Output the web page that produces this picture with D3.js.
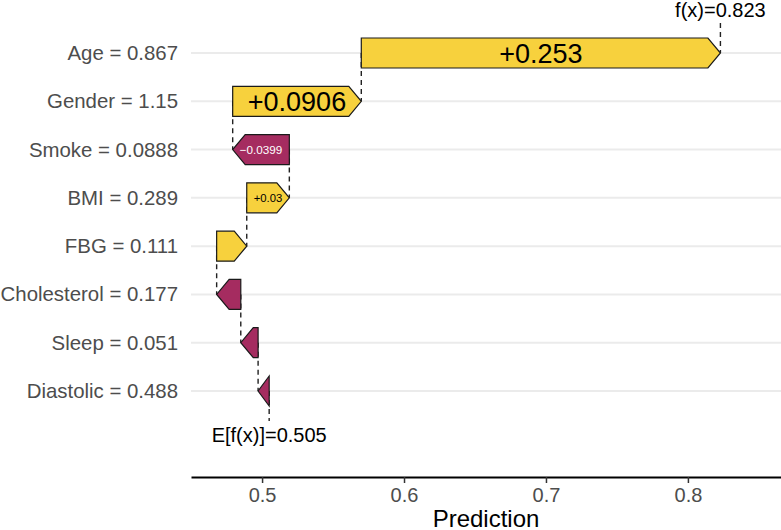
<!DOCTYPE html>
<html>
<head>
<meta charset="utf-8">
<script src="https://cdn.jsdelivr.net/npm/d3@7"></script>
<style>
  body { margin: 0; background: #fff; }
  text { font-family: "Liberation Sans", Arial, sans-serif; }
</style>
</head>
<body>
<script>
// waterfall data, top row first
var features = ["Age", "Gender", "Smoke", "BMI", "FBG", "Cholesterol", "Sleep", "Diastolic"];
var featureValues = ["0.867", "1.15", "0.0888", "0.289", "0.111", "0.177", "0.051", "0.488"];
var shapValues = [0.253, 0.0906, -0.0399, 0.03, 0.0212, -0.017, -0.0122, -0.0078];
var baseValue = 0.505;
var xTicks = [0.5, 0.6, 0.7, 0.8];

var posColour = "#f7d13d";
var negColour = "#a52c60";

var W = 781, H = 530;

var svg = d3.select("body").append("svg")
    .attr("width", W)
    .attr("height", H);

// stack from the bottom (base value) up to f(x)
var n = features.length;
var rows = [];
var acc = baseValue;
for (var i = n - 1; i >= 0; i--) {
  rows[i] = { name: features[i], label: features[i] + " = " + featureValues[i],
              shap: shapValues[i], from: acc, to: acc + shapValues[i] };
  acc += shapValues[i];
}
var prediction = acc;

var x = d3.scaleLinear()
    .domain([0.44993, 0.86558])
    .range([191, 781]);

var y = d3.scalePoint()
    .domain(features)
    .range([53, 391]);

var barH = 30;
var headLen = 12.5;
var fmt = d3.format("+.3~r");
var fmtPlain = d3.format(".3~r");

// gridlines
svg.append("g").selectAll("line")
    .data(features)
    .enter().append("line")
      .attr("x1", 191)
      .attr("x2", 781)
      .attr("y1", function(d) { return y(d); })
      .attr("y2", function(d) { return y(d); })
      .attr("stroke", "#ebebeb")
      .attr("stroke-width", 2);

// y labels
svg.append("g").selectAll("text")
    .data(rows)
    .enter().append("text")
      .attr("x", 178)
      .attr("y", function(d) { return y(d.name) + 7; })
      .attr("text-anchor", "end")
      .attr("font-size", 20.4)
      .attr("fill", "#4d4d4d")
      .text(function(d) { return d.label; });

// dashed connectors (drawn under the arrows)
var dash = svg.append("g")
    .attr("stroke", "#222")
    .attr("stroke-width", 1.4)
    .attr("stroke-dasharray", "5,4");

for (var i = 0; i < n - 1; i++) {
  dash.append("line")
      .attr("x1", x(rows[i].from)).attr("x2", x(rows[i].from))
      .attr("y1", y(rows[i].name)).attr("y2", y(rows[i + 1].name));
}
dash.append("line")
    .attr("x1", x(prediction)).attr("x2", x(prediction))
    .attr("y1", 23).attr("y2", y(rows[0].name));
dash.append("line")
    .attr("x1", x(baseValue)).attr("x2", x(baseValue))
    .attr("y1", y(rows[n - 1].name)).attr("y2", 421);

// arrows
function arrowPath(d) {
  var xa = x(d.from), xb = x(d.to);
  var cy = y(d.name), t = cy - barH / 2, b = cy + barH / 2;
  var h = Math.min(headLen, Math.abs(xb - xa));
  var s = xb > xa ? xb - h : xb + h;
  return "M" + xa + "," + t + "L" + s + "," + t + "L" + xb + "," + cy +
         "L" + s + "," + b + "L" + xa + "," + b + "Z";
}

svg.append("g").selectAll("path")
    .data(rows)
    .enter().append("path")
      .attr("d", arrowPath)
      .attr("fill", function(d) { return d.shap >= 0 ? posColour : negColour; })
      .attr("stroke", "#1a1a1a")
      .attr("stroke-width", 1.2)
      .attr("stroke-linejoin", "miter");

// bar labels, shrunk to fit the arrow
svg.append("g").selectAll("text")
    .data(rows)
    .enter().append("text")
      .attr("x", function(d) { return (x(d.from) + x(d.to)) / 2; })
      .attr("text-anchor", "middle")
      .attr("fill", function(d) { return d.shap >= 0 ? "#000" : "#fff"; })
      .attr("font-size", 27)
      .text(function(d) { return fmt(d.shap); })
      .each(function(d) {
        var el = d3.select(this);
        var len = this.getComputedTextLength();
        var room = Math.abs(x(d.to) - x(d.from)) - 14;
        var size = Math.min(27, 27 * room / len);
        if (size < 8) { el.remove(); return; }
        el.attr("font-size", size)
          .attr("y", y(d.name) + size * 0.36);
      });

// f(x) and E[f(x)] annotations
svg.append("text")
    .attr("x", x(prediction))
    .attr("y", 17)
    .attr("text-anchor", "middle")
    .attr("font-size", 20)
    .attr("fill", "#000")
    .text("f(x)=" + fmtPlain(prediction));

svg.append("text")
    .attr("x", x(baseValue))
    .attr("y", 442)
    .attr("text-anchor", "middle")
    .attr("font-size", 20)
    .attr("fill", "#000")
    .text("E[f(x)]=" + fmtPlain(baseValue));

// x axis
var xAxis = svg.append("g")
    .attr("transform", "translate(0,477)")
    .call(d3.axisBottom(x).tickValues(xTicks).tickSize(6).tickSizeOuter(0).tickPadding(5)
      .tickFormat(d3.format(".1f")));

xAxis.select(".domain").attr("stroke", "#000").attr("stroke-width", 2);
xAxis.selectAll(".tick line").attr("stroke", "#333").attr("stroke-width", 1.5);
xAxis.selectAll(".tick text")
    .attr("font-size", 20)
    .attr("fill", "#4d4d4d")
    .attr("font-family", "Liberation Sans, Arial, sans-serif");

svg.append("text")
    .attr("x", 486)
    .attr("y", 527)
    .attr("text-anchor", "middle")
    .attr("font-size", 24)
    .attr("fill", "#000")
    .text("Prediction");
</script>
</body>
</html>
